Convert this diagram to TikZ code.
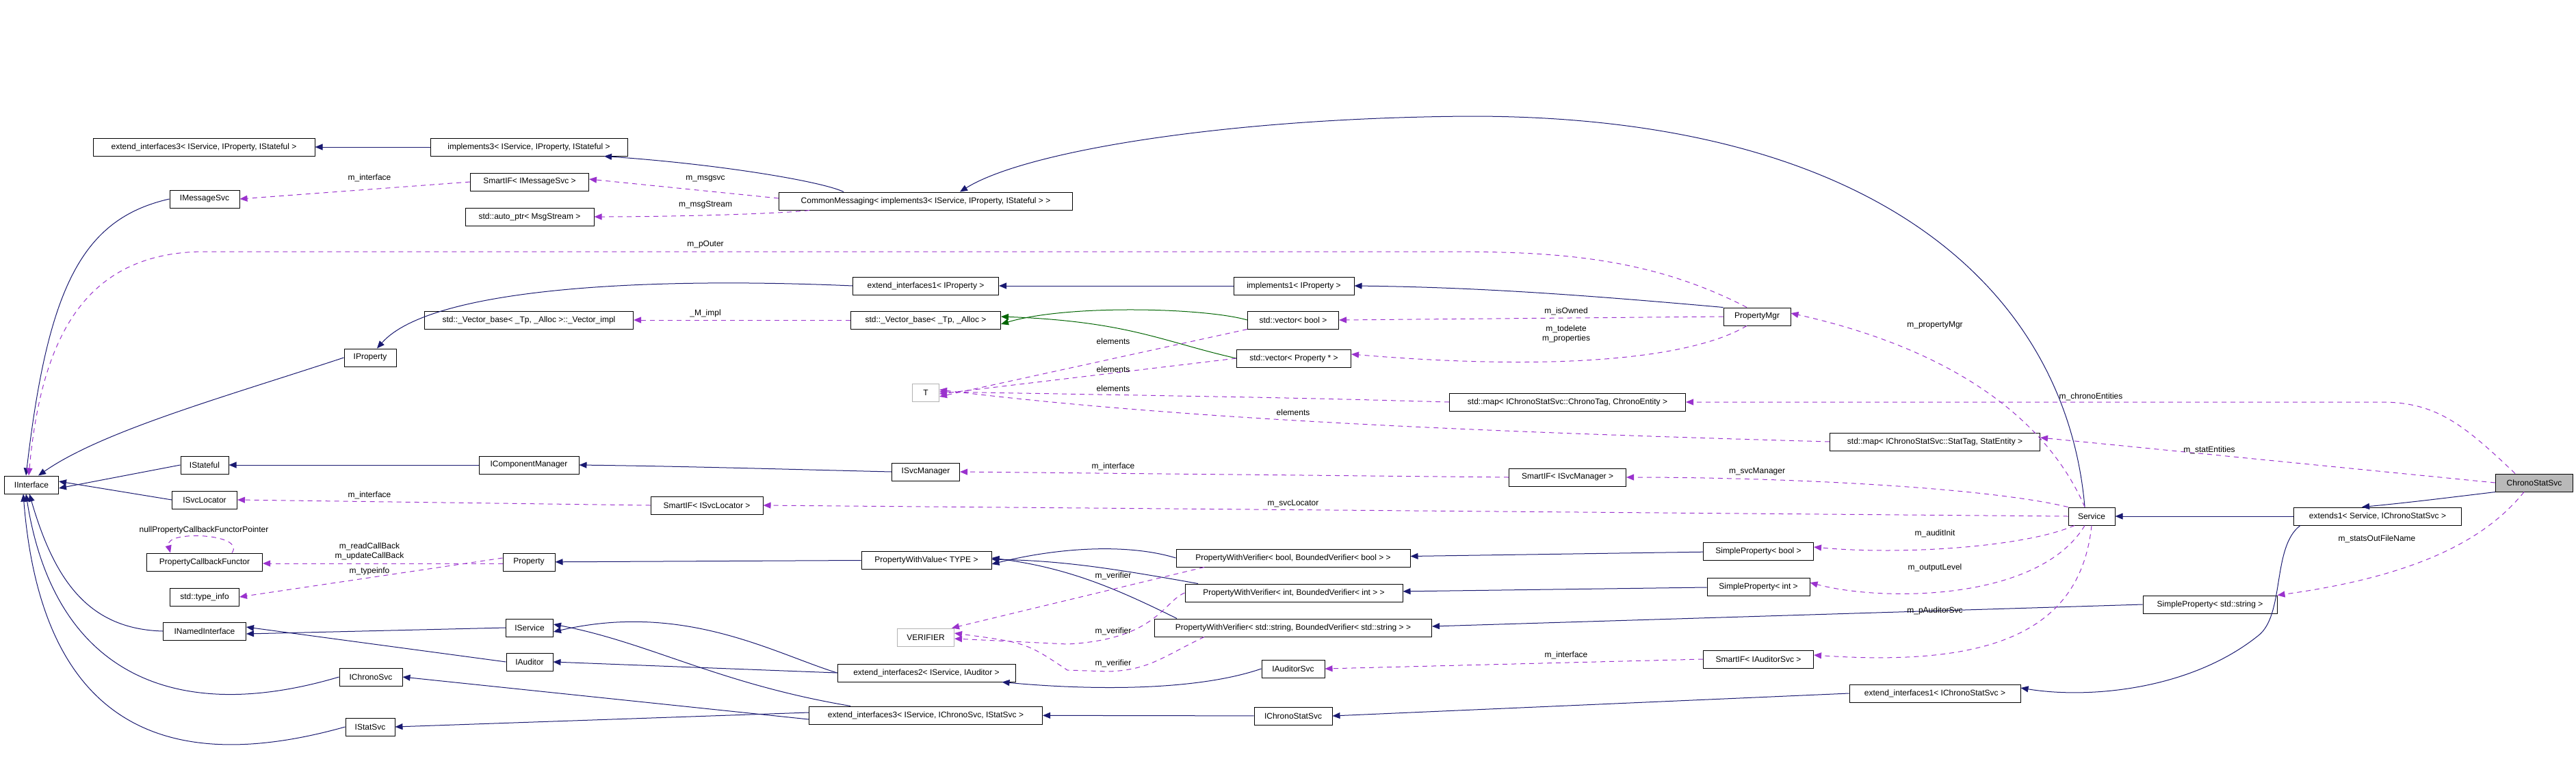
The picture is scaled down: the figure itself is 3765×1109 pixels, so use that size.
\documentclass[tikz,border=0pt]{standalone}
\usepackage{fontspec}
\setmainfont{Liberation Sans}
\usetikzlibrary{arrows.meta}
\definecolor{navy}{RGB}{25,25,112}
\definecolor{purp}{RGB}{154,50,205}
\definecolor{dgreen}{RGB}{0,100,0}
\begin{document}
\begin{tikzpicture}[x=1pt,y=-1pt,
  every node/.style={font=\fontsize{12}{14}\selectfont},
  nb/.style={draw=black,line width=1pt,fill=white,minimum height=26pt,inner sep=2pt},
  gb/.style={nb,draw=gray!60},
  inh/.style={draw=navy,line width=1pt,-{Triangle[length=11pt,width=9pt]}},
  grn/.style={draw=dgreen,line width=1pt,-{Triangle[length=11pt,width=9pt]}},
  use/.style={draw=purp,line width=1pt,dash pattern=on 7pt off 6pt,-{Triangle[length=11pt,width=9pt]}},
  lb/.style={inner sep=1pt,align=center}]
\useasboundingbox (0,0) rectangle (3765,1109);
% nodes
\node[nb,minimum width=324] (eiISP) at (298,215) {extend\_interfaces3< IService, IProperty, IStateful >};
\node[nb,minimum width=288] (impl3) at (773,215) {implements3< IService, IProperty, IStateful >};
\node[nb,minimum width=102] (IMsg) at (299,291) {IMessageSvc};
\node[nb,minimum width=173] (SIMsg) at (774,266) {SmartIF< IMessageSvc >};
\node[nb,minimum width=429] (CM) at (1353,294) {CommonMessaging< implements3< IService, IProperty, IStateful > >};
\node[nb,minimum width=188] (auto) at (774,317) {std::auto\_ptr< MsgStream >};
\node[nb,minimum width=213] (ei1P) at (1353,418) {extend\_interfaces1< IProperty >};
\node[nb,minimum width=176] (impl1) at (1891,418) {implements1< IProperty >};
\node[nb,minimum width=305] (vimpl) at (773,468) {std::\_Vector\_base< \_Tp, \_Alloc >::\_Vector\_impl};
\node[nb,minimum width=219] (vbase) at (1353,468) {std::\_Vector\_base< \_Tp, \_Alloc >};
\node[nb,minimum width=133] (vb) at (1890,468) {std::vector< bool >};
\node[nb,minimum width=167] (vp) at (1891,524) {std::vector< Property * >};
\node[nb,minimum width=76] (IProp) at (541,523) {IProperty};
\node[gb,minimum width=39] (T) at (1353,574) {T};
\node[nb,minimum width=79] (Intf) at (46,709) {IInterface};
\node[nb,minimum width=70] (IStf) at (299,680) {IStateful};
\node[nb,minimum width=146] (ICM) at (773,680) {IComponentManager};
\node[nb,minimum width=99] (ISM) at (1353,690) {ISvcManager};
\node[nb,minimum width=95] (ISL) at (299,731) {ISvcLocator};
\node[nb,minimum width=164] (SISL) at (1033,739) {SmartIF< ISvcLocator >};
\node[nb,minimum width=169] (PCF) at (299,822) {PropertyCallbackFunctor};
\node[nb,minimum width=76] (Prop) at (773,822) {Property};
\node[nb,minimum width=190] (PWV) at (1354,819) {PropertyWithValue< TYPE >};
\node[nb,minimum width=101] (tinfo) at (299,873) {std::type\_info};
\node[nb,minimum width=121] (INI) at (299,923) {INamedInterface};
\node[nb,minimum width=69] (ISvc) at (774,918) {IService};
\node[nb,minimum width=68] (IAud) at (774,968) {IAuditor};
\node[gb,minimum width=83] (VER) at (1353,932) {VERIFIER};
\node[nb,minimum width=260] (ei2) at (1354,984) {extend\_interfaces2< IService, IAuditor >};
\node[nb,minimum width=92] (IChr) at (542,990) {IChronoSvc};
\node[nb,minimum width=72] (IStat) at (541,1063) {IStatSvc};
\node[nb,minimum width=341] (ei3) at (1353,1046) {extend\_interfaces3< IService, IChronoSvc, IStatSvc >};
\node[nb,minimum width=342] (pvb) at (1890,816) {PropertyWithVerifier< bool, BoundedVerifier< bool > >};
\node[nb,minimum width=318] (pvi) at (1891,867) {PropertyWithVerifier< int, BoundedVerifier< int > >};
\node[nb,minimum width=405] (pvs) at (1890,918) {PropertyWithVerifier< std::string, BoundedVerifier< std::string > >};
\node[nb,minimum width=92] (IAS) at (1890,978) {IAuditorSvc};
\node[nb,minimum width=114] (ICS) at (1890,1047) {IChronoStatSvc};
\node[nb,minimum width=98] (PM) at (2568,463) {PropertyMgr};
\node[nb,minimum width=345] (mC) at (2291,588) {std::map< IChronoStatSvc::ChronoTag, ChronoEntity >};
\node[nb,minimum width=307] (mS) at (2828,646) {std::map< IChronoStatSvc::StatTag, StatEntity >};
\node[nb,minimum width=171] (SISM) at (2291,698) {SmartIF< ISvcManager >};
\node[nb,minimum width=68] (Svc) at (3057,755) {Service};
\node[nb,minimum width=245] (ext1) at (3475,755) {extends1< Service, IChronoStatSvc >};
\node[nb,minimum width=113,fill=gray!55] (CSS) at (3704,706) {ChronoStatSvc};
\node[nb,minimum width=161] (SPb) at (2570,806) {SimpleProperty< bool >};
\node[nb,minimum width=150] (SPi) at (2570,858) {SimpleProperty< int >};
\node[nb,minimum width=196] (SPs) at (3230,884) {SimpleProperty< std::string >};
\node[nb,minimum width=161] (SIAS) at (2570,964) {SmartIF< IAuditorSvc >};
\node[nb,minimum width=250] (ei1C) at (2828,1014) {extend\_interfaces1< IChronoStatSvc >};
% inheritance
\draw[inh] (impl3) -- (eiISP);
\draw[inh] ([xshift=-120]CM.north) .. controls (1200,265) and (1050,240) .. ([xshift=110]impl3.south);
\draw[inh] ([xshift=-10]Svc.north) .. controls (3020,430) and (2750,170) .. (2150,170) .. controls (1800,172) and (1500,220) .. ([xshift=50]CM.north);
\draw[inh] (IMsg.west) .. controls (120,320) and (70,420) .. ([xshift=-8]Intf.north);
\draw[inh] (IProp.west) .. controls (330,580) and (150,630) .. ([xshift=10]Intf.north);
\draw[inh] (ei1P.west) .. controls (950,405) and (630,420) .. ([xshift=10]IProp.north);
\draw[inh] (impl1) -- (ei1P);
\draw[inh] (PM.north west) .. controls (2300,430) and (2150,420) .. (impl1.east);
\draw[inh] (IStf.west) -- ([yshift=-5]Intf.east);
\draw[inh] (ISL.west) -- ([yshift=5]Intf.east);
\draw[inh] (ICM) -- (IStf);
\draw[inh] (ISM.west) .. controls (1100,685) and (1000,682) .. (ICM.east);
\draw[inh] (INI.west) .. controls (130,920) and (80,850) .. ([xshift=-3]Intf.south);
\draw[inh] (IChr.west) .. controls (260,1060) and (80,990) .. ([xshift=-8]Intf.south);
\draw[inh] (IStat.west) .. controls (230,1140) and (60,1050) .. ([xshift=-12]Intf.south);
\draw[inh] (ISvc.west) -- ([yshift=-4]INI.east);
\draw[inh] (IAud.west) -- ([yshift=6]INI.east);
\draw[inh] (PWV) -- (Prop);
\draw[inh] (pvb.west) .. controls (1650,795) and (1550,800) .. ([yshift=-6]PWV.east);
\draw[inh] ([xshift=-140]pvi.north) .. controls (1620,830) and (1550,820) .. ([yshift=1]PWV.east);
\draw[inh] ([xshift=-170]pvs.north) .. controls (1630,860) and (1560,830) .. ([yshift=3]PWV.east);
\draw[inh] (SPb) -- (pvb);
\draw[inh] (SPi) -- (pvi);
\draw[inh] (SPs.west) -- ([yshift=2]pvs.east);
\draw[inh] (ei2.west) .. controls (1130,955) and (1000,880) .. ([yshift=-6]ISvc.east);
\draw[inh] (ei2.west) -- (IAud.east);
\draw[inh] ([xshift=-110]ei3.north) .. controls (1050,1000) and (950,940) .. ([yshift=5]ISvc.east);
\draw[inh] ([yshift=-6]ei3.west) -- (IChr.east);
\draw[inh] ([yshift=4]ei3.west) -- (IStat.east);
\draw[inh] (IAS.west) .. controls (1750,1010) and (1600,1010) .. ([xshift=-20]ei2.south east);
\draw[inh] (ICS) -- (ei3);
\draw[inh] (ei1C.west) -- (ICS.east);
\draw[inh] (ext1) -- (Svc);
\draw[inh] ([xshift=10]ext1.south west) .. controls (3320,800) and (3340,900) .. (3300,930) .. controls (3200,1010) and (3050,1022) .. ([yshift=8]ei1C.east);
\draw[inh] (CSS.south west) .. controls (3560,730) and (3520,735) .. ([xshift=100]ext1.north west);
\draw[grn] (vb.west) .. controls (1760,450) and (1560,445) .. ([yshift=-6]vbase.east);
\draw[grn] (vp.west) .. controls (1700,500) and (1650,470) .. ([yshift=5]vbase.east);
% usage
\draw[use] (SIMsg.west) -- (IMsg.east);
\draw[use] ([yshift=4]CM.west) -- ([yshift=4]SIMsg.east);
\draw[use] ([xshift=-170]CM.south) .. controls (1150,312) and (1000,317) .. (auto.east);
\draw[use] ([xshift=-15]PM.north) .. controls (2400,370) and (2250,368) .. (2100,368) -- (300,368) .. controls (120,368) and (60,500) .. ([xshift=-4]Intf.north);
\draw[use] (vbase) -- (vimpl);
\draw[use] (PM.west) -- (vb.east);
\draw[use] ([xshift=-15]PM.south) .. controls (2480,520) and (2300,545) .. ([yshift=6]vp.east);
\draw[use] (vb.south west) -- ([yshift=-6]T.east);
\draw[use] (vp.west) -- ([yshift=-2]T.east);
\draw[use] (mC.west) .. controls (1900,582) .. ([yshift=1]T.east);
\draw[use] (mS.west) .. controls (2100,630) and (1700,610) .. ([yshift=4]T.east);
\draw[use] (SISM.west) -- (ISM.east);
\draw[use] (SISL.west) -- (ISL.east);
\draw[use] (Svc.west) -- (SISL.east);
\draw[use] (Svc.north west) .. controls (2900,712) and (2600,698) .. (SISM.east);
\draw[use] ([xshift=-10]Svc.north) .. controls (2990,610) and (2850,510) .. ([yshift=5]PM.east);
\draw[use] ([xshift=-25]Svc.south) .. controls (2960,800) and (2780,812) .. ([yshift=6]SPb.east);
\draw[use] ([xshift=-10]Svc.south) .. controls (2980,880) and (2750,880) .. ([yshift=6]SPi.east);
\draw[use] (Svc.south) .. controls (3040,930) and (2900,975) .. ([yshift=6]SIAS.east);
\draw[use] (SIAS.west) -- (IAS.east);
\draw[use] ([yshift=-2]Prop.west) -- ([yshift=-2]PCF.east);
\draw[use] ([yshift=6]Prop.west) -- (tinfo.east);
\draw[use] ([xshift=40]PCF.north) .. controls (360,780) and (240,775) .. ([xshift=-50]PCF.north);
\draw[use] ([xshift=-130]pvb.south) -- ([xshift=-4]VER.north east);
\draw[use] (pvi.west) .. controls (1700,880) and (1690,935) .. (1560,942) -- ([yshift=-2]VER.east);
\draw[use] ([xshift=-130]pvs.south) .. controls (1700,960) and (1680,980) .. (1620,982) -- (1560,980) .. controls (1500,940) .. ([yshift=6]VER.east);
\draw[use] ([xshift=-28]CSS.north) .. controls (3600,620) and (3560,588) .. (3480,588) -- (mC.east);
\draw[use] (CSS.west) -- ([yshift=6]mS.east);
\draw[use] ([xshift=-15]CSS.south) .. controls (3640,780) and (3550,840) .. (SPs.north east);
% labels
\node[lb] (l1) at (540,260) {m\_interface};
\node[lb] (l2) at (1031,262) {m\_msgsvc};
\node[lb] (l3) at (1031,300) {m\_msgStream};
\node[lb] (l4) at (1031,358) {m\_pOuter};
\node[lb] (l5) at (1031,458) {\_M\_impl};
\node[lb] (l6) at (1627,499) {elements};
\node[lb] (l7) at (1627,540) {elements};
\node[lb] (l8) at (1627,568) {elements};
\node[lb] (l9) at (1890,603) {elements};
\node[lb] (l10) at (2289,455) {m\_isOwned};
\node[lb] (l11) at (2289,488) {m\_todelete\\m\_properties};
\node[lb] (l12) at (2828,476) {m\_propertyMgr};
\node[lb] (l13) at (3056,580) {m\_chronoEntities};
\node[lb] (l14) at (3229,658) {m\_statEntities};
\node[lb] (l15) at (2568,690) {m\_svcManager};
\node[lb] (l16) at (1627,682) {m\_interface};
\node[lb] (l17) at (540,724) {m\_interface};
\node[lb] (l18) at (1890,737) {m\_svcLocator};
\node[lb] (l19) at (298,775) {nullPropertyCallbackFunctorPointer};
\node[lb] (l20) at (540,806) {m\_readCallBack\\m\_updateCallBack};
\node[lb] (l21) at (540,835) {m\_typeinfo};
\node[lb] (l22) at (2828,780) {m\_auditInit};
\node[lb] (l23) at (2828,830) {m\_outputLevel};
\node[lb] (l24) at (2828,893) {m\_pAuditorSvc};
\node[lb] (l25) at (1627,842) {m\_verifier};
\node[lb] (l26) at (1627,923) {m\_verifier};
\node[lb] (l27) at (1627,970) {m\_verifier};
\node[lb] (l28) at (2289,958) {m\_interface};
\node[lb] (l29) at (3474,788) {m\_statsOutFileName};
\end{tikzpicture}
\end{document}
